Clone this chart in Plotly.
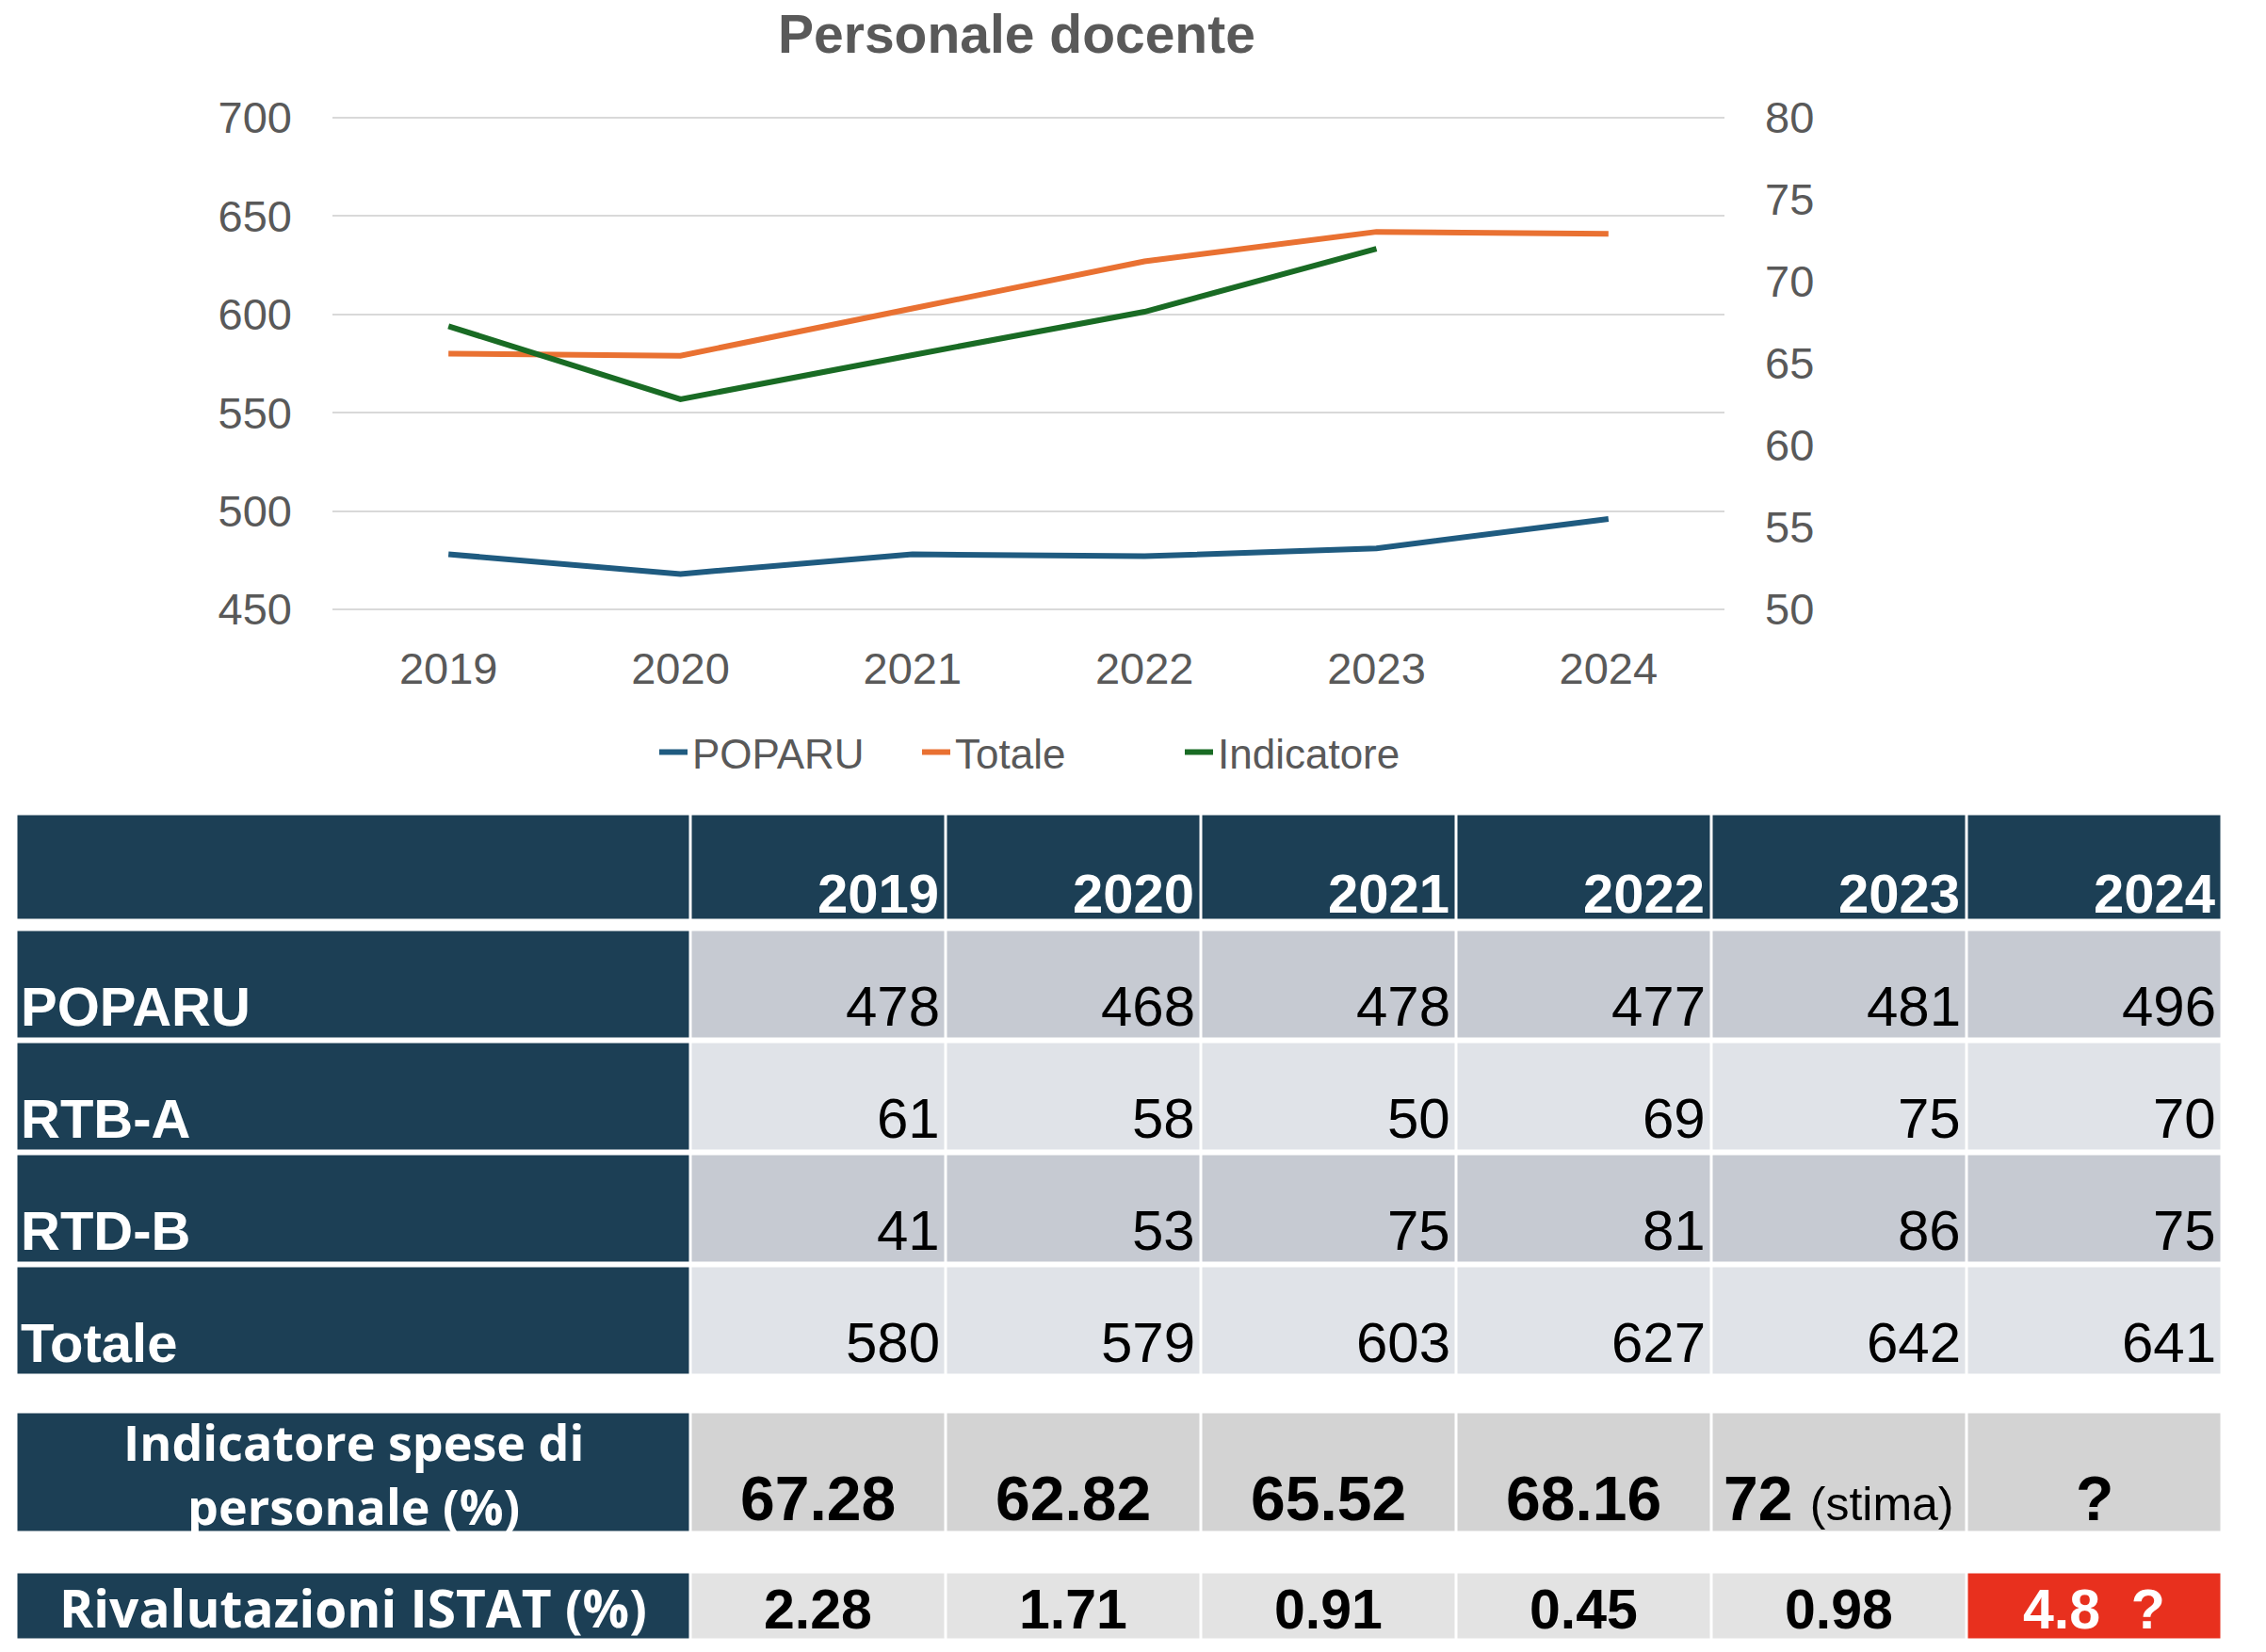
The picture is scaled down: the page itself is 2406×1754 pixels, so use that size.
import plotly.graph_objects as go

# ---------------- data ----------------
years = ["2019", "2020", "2021", "2022", "2023", "2024"]
poparu = [478, 468, 478, 477, 481, 496]
rtb_a = [61, 58, 50, 69, 75, 70]
rtd_b = [41, 53, 75, 81, 86, 75]
totale = [580, 579, 603, 627, 642, 641]
indicatore = [67.28, 62.82, 65.52, 68.16, 72, None]
indicatore_note = ["", "", "", "", "(stima)", ""]
istat = [2.28, 1.71, 0.91, 0.45, 0.98, 4.8]
istat_doubt = [False, False, False, False, False, True]

title_text = "Personale docente"
row_labels = ["POPARU", "RTB-A", "RTD-B", "Totale"]
ind_label = "Indicatore spese di<br>personale (%)"
istat_label = "Rivalutazioni ISTAT (%)"
left_ticks = [450, 500, 550, 600, 650, 700]
right_ticks = [50, 55, 60, 65, 70, 75, 80]

# ---------------- layout constants (pixels) ----------------
W, H = 2406, 1754
PX0, PX1, PY0, PY1 = 353, 1831, 124, 648
TXT = "#595959"
NAVY = "#1C3F55"
ARIAL = "Liberation Sans, Arial, sans-serif"
OPEN = "Open Sans, Liberation Sans, sans-serif"

C_POP = "#1F5B80"
C_TOT = "#E97132"
C_IND = "#196B24"

fig = go.Figure()
fig.add_trace(go.Scatter(x=years, y=poparu, name="POPARU", mode="lines",
                         line=dict(color=C_POP, width=6)))
fig.add_trace(go.Scatter(x=years, y=totale, name="Totale", mode="lines",
                         line=dict(color=C_TOT, width=6)))
fig.add_trace(go.Scatter(x=years, y=indicatore, name="Indicatore", mode="lines",
                         yaxis="y2", line=dict(color=C_IND, width=6)))
# anchor trace for the table subplot
fig.add_trace(go.Scatter(x=[], y=[], xaxis="x3", yaxis="y3", showlegend=False,
                         hoverinfo="skip"))

# ---------------- table geometry ----------------
T_LEFT = 17
LABEL_W = 716
COL_W = 271
TABLE_TOP = 850
col_edges = [T_LEFT, T_LEFT + LABEL_W] + [T_LEFT + LABEL_W + COL_W * (i + 1) for i in range(len(years))]
HEAD = (864, 977)
ROW_TOP0, ROW_PITCH, ROW_H = 987, 119, 116
IND_ROW = (1499, 1627)
IST_ROW = (1669, 1741)
GAP = 1.5

shapes = []
annotations = []


def cell(x0, x1, y0, y1, color):
    shapes.append(dict(type="rect", xref="x3", yref="y3", x0=x0 + GAP, x1=x1 - GAP,
                       y0=y0 + GAP, y1=y1 - GAP, fillcolor=color,
                       line=dict(width=0), layer="below"))


def text(x, baseline, s, size, color="black", xanchor="center", family=ARIAL, k=0.33):
    annotations.append(dict(xref="x3", yref="y3", x=x, y=baseline - k * size, text=s,
                            showarrow=False, xanchor=xanchor, yanchor="middle",
                            font=dict(size=size, color=color, family=family)))


# header
cell(col_edges[0], col_edges[1], HEAD[0], HEAD[1], NAVY)
for j, yr in enumerate(years):
    cell(col_edges[j + 1], col_edges[j + 2], HEAD[0], HEAD[1], NAVY)
    text(col_edges[j + 2] - 5, HEAD[1] - 9, "<b>%s</b>" % yr, 58, "white", "right")

# body rows
body = [poparu, rtb_a, rtd_b, totale]
row_fill = ["#C6CAD2", "#E0E3E8", "#C6CAD2", "#E0E3E8"]
for i, (lab, vals) in enumerate(zip(row_labels, body)):
    y0 = ROW_TOP0 + i * ROW_PITCH
    y1 = y0 + ROW_H
    cell(col_edges[0], col_edges[1], y0, y1, NAVY)
    text(col_edges[0] + 3, y1 - 15, "<b>%s</b>" % lab, 58, "white", "left")
    for j, v in enumerate(vals):
        cell(col_edges[j + 1], col_edges[j + 2], y0, y1, row_fill[i])
        text(col_edges[j + 2] - 4, y1 - 15, str(v), 60, "black", "right")

# indicatore row
cell(col_edges[0], col_edges[1], IND_ROW[0], IND_ROW[1], NAVY)
annotations.append(dict(xref="x3", yref="y3", x=(col_edges[0] + col_edges[1]) / 2,
                        y=(IND_ROW[0] + IND_ROW[1]) / 2 + 1, text="<b>%s</b>" % ind_label,
                        showarrow=False, xanchor="center", yanchor="middle",
                        font=dict(size=52, color="white", family=OPEN)))
for j, v in enumerate(indicatore):
    cell(col_edges[j + 1], col_edges[j + 2], IND_ROW[0], IND_ROW[1], "#D3D3D3")
    cx = (col_edges[j + 1] + col_edges[j + 2]) / 2
    if v is None:
        s = "<b>?</b>"
    else:
        s = "<b>%.2f</b>" % v if v != int(v) else "<b>%d</b>" % v
        if indicatore_note[j]:
            s += " <span style='font-size:50px'>%s</span>" % indicatore_note[j]
    text(cx, IND_ROW[1] - 14, s, 66, "black", "center")

# ISTAT row
cell(col_edges[0], col_edges[1], IST_ROW[0], IST_ROW[1], NAVY)
text((col_edges[0] + col_edges[1]) / 2, IST_ROW[1] - 13, "<b>%s</b>" % istat_label, 55,
     "white", "center", family=OPEN, k=0.388)
for j, v in enumerate(istat):
    cx = (col_edges[j + 1] + col_edges[j + 2]) / 2
    if istat_doubt[j]:
        cell(col_edges[j + 1], col_edges[j + 2], IST_ROW[0], IST_ROW[1], "#E8301E")
        text(cx, IST_ROW[1] - 13, "<b>%g\u00a0 ?</b>" % v, 59, "white", "center")
    else:
        cell(col_edges[j + 1], col_edges[j + 2], IST_ROW[0], IST_ROW[1], "#E3E3E3")
        text(cx, IST_ROW[1] - 13, "<b>%.2f</b>" % v, 59, "black", "center")

# title
annotations.append(dict(xref="paper", yref="paper", x=1079 / W, y=1 - 36 / H,
                        text="<b>%s</b>" % title_text, showarrow=False,
                        xanchor="center", yanchor="middle",
                        font=dict(size=57, color=TXT, family=ARIAL)))

fig.update_layout(
    width=W, height=H, autosize=False,
    margin=dict(l=0, r=0, t=0, b=0, autoexpand=False),
    paper_bgcolor="white", plot_bgcolor="rgba(0,0,0,0)",
    font=dict(family=ARIAL, size=44, color=TXT),
    showlegend=True,
    legend=dict(orientation="h", x=695 / W, y=1 - 799 / H, xanchor="left",
                yanchor="middle", font=dict(size=44, color=TXT, family=ARIAL),
                entrywidth=234, entrywidthmode="pixels", bgcolor="rgba(0,0,0,0)"),
    xaxis=dict(domain=[PX0 / W, PX1 / W], type="category", range=[-0.5, 5.5],
               showgrid=False, zeroline=False, showline=False, ticks="",
               tickfont=dict(size=47, color=TXT), ticklabelstandoff=30, anchor="y"),
    yaxis=dict(domain=[1 - PY1 / H, 1 - PY0 / H], range=[449.5, 700.5], tickvals=left_ticks,
               showgrid=True, gridcolor="#D9D9D9", gridwidth=2, zeroline=False,
               showline=False, ticks="", tickfont=dict(size=47, color=TXT),
               ticklabelstandoff=42, anchor="x"),
    yaxis2=dict(overlaying="y", side="right", range=[49.94, 80.06], tickvals=right_ticks,
                showgrid=False, zeroline=False, showline=False, ticks="",
                tickfont=dict(size=47, color=TXT), ticklabelstandoff=42, anchor="x"),
    xaxis3=dict(domain=[0, 1], range=[0, W], visible=False, anchor="y3",
                fixedrange=True),
    yaxis3=dict(domain=[0, 1 - TABLE_TOP / H], range=[H, TABLE_TOP], visible=False,
                anchor="x3", fixedrange=True),
    shapes=shapes,
    annotations=annotations,
)

fig.write_html("out.html")
